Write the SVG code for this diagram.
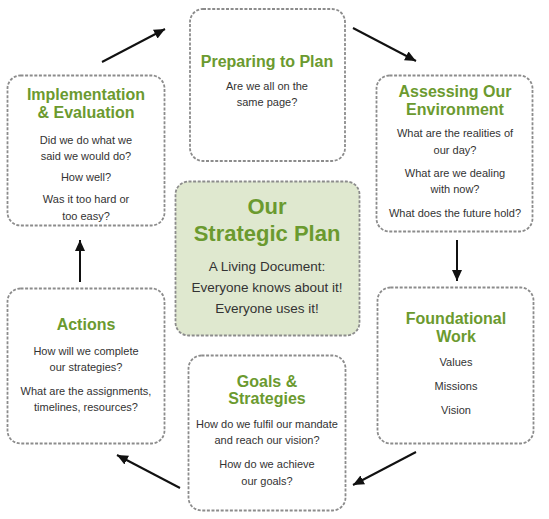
<svg xmlns="http://www.w3.org/2000/svg" width="549" height="519" viewBox="0 0 549 519">
  <style>
    .box { fill: #ffffff; stroke: #8c8c8c; stroke-width: 1.8; stroke-dasharray: 3 1.6; }
    .core { fill: #dfe8cf; stroke: #8c8c8c; stroke-width: 1.8; stroke-dasharray: 3 1.6; }
    .title { font-family: "Liberation Sans", Arial, sans-serif; font-weight: bold; font-size: 16px; fill: #6b9a2f; text-anchor: middle; }
    .big { font-family: "Liberation Sans", Arial, sans-serif; font-weight: bold; font-size: 22px; fill: #6b9a2f; text-anchor: middle; }
    .body { font-family: "Liberation Sans", Arial, sans-serif; font-size: 11px; fill: #333333; text-anchor: middle; }
    .cbody { font-family: "Liberation Sans", Arial, sans-serif; font-size: 13.5px; fill: #333333; text-anchor: middle; }
    .arrow { stroke: #111111; stroke-width: 2; fill: none; marker-end: url(#head); }
  </style>
  <defs>
    <marker id="head" markerUnits="userSpaceOnUse" markerWidth="12" markerHeight="10" refX="11" refY="5" orient="auto">
      <path d="M0,0 L11,5 L0,10 Z" fill="#111111"/>
    </marker>
  </defs>

  <g id="connectors">
    <line class="arrow" x1="102" y1="62" x2="165" y2="29"/>
    <line class="arrow" x1="353" y1="28" x2="416" y2="61"/>
    <line class="arrow" x1="457" y1="240" x2="457" y2="281"/>
    <line class="arrow" x1="416" y1="452" x2="353" y2="485"/>
    <line class="arrow" x1="180" y1="488" x2="117" y2="455"/>
    <line class="arrow" x1="80" y1="282" x2="80" y2="240"/>
  </g>

  <g id="preparing">
    <rect class="box" x="190" y="9" width="155" height="152" rx="13"/>
    <text class="title" x="267" y="67">Preparing to Plan</text>
    <text class="body" x="267" y="90">Are we all on the</text>
    <text class="body" x="267" y="106">same page?</text>
  </g>

  <g id="implementation">
    <rect class="box" x="7.5" y="75.5" width="157" height="150" rx="13"/>
    <text class="title" x="86" y="100">Implementation</text>
    <text class="title" x="86" y="118">&amp; Evaluation</text>
    <text class="body" x="86" y="144">Did we do what we</text>
    <text class="body" x="86" y="160">said we would do?</text>
    <text class="body" x="86" y="181">How well?</text>
    <text class="body" x="86" y="203">Was it too hard or</text>
    <text class="body" x="86" y="220">too easy?</text>
  </g>

  <g id="assessing">
    <rect class="box" x="376.5" y="75.5" width="156" height="156" rx="13"/>
    <text class="title" x="455" y="97">Assessing Our</text>
    <text class="title" x="455" y="115">Environment</text>
    <text class="body" x="455" y="137">What are the realities of</text>
    <text class="body" x="455" y="154">our day?</text>
    <text class="body" x="455" y="177">What are we dealing</text>
    <text class="body" x="455" y="193">with now?</text>
    <text class="body" x="455" y="217">What does the future hold?</text>
  </g>

  <g id="core">
    <rect class="core" x="175.5" y="181.5" width="184" height="154" rx="13"/>
    <text class="big" x="267" y="214">Our</text>
    <text class="big" x="267" y="241">Strategic Plan</text>
    <text class="cbody" x="267" y="271">A Living Document:</text>
    <text class="cbody" x="267" y="292">Everyone knows about it!</text>
    <text class="cbody" x="267" y="313">Everyone uses it!</text>
  </g>

  <g id="actions">
    <rect class="box" x="7.5" y="288.5" width="157" height="155" rx="13"/>
    <text class="title" x="86" y="330">Actions</text>
    <text class="body" x="86" y="355">How will we complete</text>
    <text class="body" x="86" y="371">our strategies?</text>
    <text class="body" x="86" y="395">What are the assignments,</text>
    <text class="body" x="86" y="411">timelines, resources?</text>
  </g>

  <g id="foundational">
    <rect class="box" x="377.5" y="287.5" width="156" height="156" rx="13"/>
    <text class="title" x="456" y="324">Foundational</text>
    <text class="title" x="456" y="342">Work</text>
    <text class="body" x="456" y="366">Values</text>
    <text class="body" x="456" y="390">Missions</text>
    <text class="body" x="456" y="414">Vision</text>
  </g>

  <g id="goals">
    <rect class="box" x="188.5" y="355.5" width="157" height="155" rx="13"/>
    <text class="title" x="267" y="387">Goals &amp;</text>
    <text class="title" x="267" y="404">Strategies</text>
    <text class="body" x="267" y="428">How do we fulfil our mandate</text>
    <text class="body" x="267" y="444">and reach our vision?</text>
    <text class="body" x="267" y="468">How do we achieve</text>
    <text class="body" x="267" y="485">our goals?</text>
  </g>
</svg>
